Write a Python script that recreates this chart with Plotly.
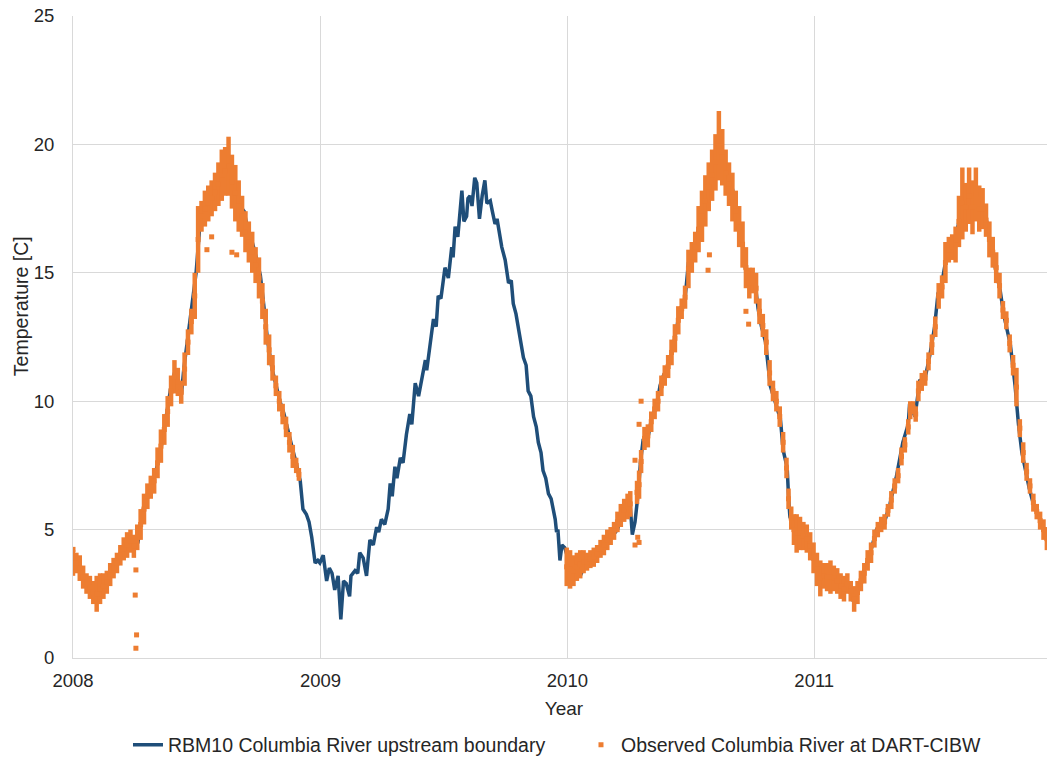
import numpy as np
import pandas as pd
import plotly.graph_objects as go

# days since 2008-01-01
rbm_day = [0, 10, 19, 25, 33, 37, 44, 50, 58, 65, 72, 80, 87, 90, 96, 104, 109, 114, 121, 129,
           135, 139, 145, 151, 155, 160, 164, 169, 173, 177, 182, 185, 188, 194, 200, 206, 211, 217, 223, 229,
           235, 241, 247, 253, 259, 265, 271, 277, 281, 285, 288, 294, 300, 306, 312, 318, 324, 330, 336, 340,
           345, 349, 353, 358, 362, 365, 370, 375, 379, 383, 387, 392, 396, 400, 404, 409, 411, 417, 421, 424,
           429, 434, 439, 444, 449, 452, 456, 461, 466, 469, 472, 476, 479, 484, 488, 493, 498, 501, 506, 511,
           515, 521, 523, 528, 533, 537, 540, 544, 550, 555, 560, 562, 565, 569, 575, 578, 582, 584, 587, 590,
           594, 597, 601, 605, 609, 612, 617, 620, 624, 627, 631, 634, 639, 644, 648, 651, 655, 659, 662, 666,
           670, 673, 677, 681, 685, 688, 692, 695, 699, 703, 707, 710, 713, 715, 717, 720, 723, 727, 730, 735,
           742, 750, 760, 770, 776, 784, 791, 799, 805, 811, 818, 824, 827, 831, 836, 839, 843, 851, 856, 863,
           868, 873, 880, 888, 895, 901, 905, 910, 915, 922, 927, 933, 939, 945, 951, 956, 961, 967, 973, 979,
           985, 990, 994, 999, 1003, 1009, 1013, 1018, 1024, 1031, 1038, 1046, 1050, 1056, 1058, 1060, 1070, 1077, 1085, 1091,
           1100, 1105, 1112, 1120, 1129, 1137, 1144, 1149, 1154, 1161, 1168, 1178, 1188, 1200, 1208, 1217, 1227, 1235, 1237, 1245,
           1252, 1260, 1267, 1274, 1279, 1284, 1289, 1294, 1300, 1304, 1310, 1316, 1322, 1326, 1331, 1336, 1340, 1344, 1351, 1358,
           1366, 1371, 1376, 1381, 1386, 1393, 1398, 1403, 1408, 1414, 1420, 1430, 1440, 1450, 1457]
rbm_temp = [3.7, 3.5, 3.0, 2.8, 2.4, 2.2, 2.8, 2.9, 3.4, 3.7, 4.1, 4.4, 4.5, 4.2, 4.5, 5.8, 6.2, 6.6, 7.1, 8.0,
            8.9, 9.6, 10.6, 11.2, 10.6, 10.2, 11.3, 12.3, 13.0, 13.8, 15.0, 16.0, 17.0, 17.5, 17.8, 18.0, 18.2, 18.5, 19.0, 19.3,
            18.7, 18.0, 17.6, 17.4, 16.6, 16.2, 15.6, 14.9, 14.0, 13.0, 12.3, 11.3, 10.6, 10.0, 9.5, 8.8, 8.2, 7.6, 6.9, 5.8,
            5.6, 5.3, 4.7, 3.7, 3.8, 3.7, 4.0, 3.0, 3.5, 3.3, 2.65, 3.2, 1.5, 3.0, 2.9, 2.4, 3.2, 3.4, 3.3, 4.1,
            3.9, 3.2, 4.6, 4.4, 5.1, 4.9, 5.4, 5.2, 5.8, 6.8, 6.3, 7.45, 7.0, 7.8, 7.6, 8.7, 9.5, 9.1, 10.7, 10.2,
            10.8, 11.6, 11.2, 12.3, 13.2, 12.9, 14.1, 14.0, 15.2, 14.8, 16.0, 15.6, 16.8, 16.4, 18.2, 17.0, 17.2, 17.9, 18.0, 17.6,
            18.7, 18.5, 17.1, 18.0, 18.6, 17.7, 17.8, 17.4, 16.9, 17.1, 16.5, 16.0, 15.5, 14.6, 14.7, 13.8, 13.4, 12.8, 12.4, 11.7,
            11.4, 10.4, 10.2, 9.4, 9.0, 8.4, 8.0, 7.3, 7.0, 6.4, 6.2, 5.8, 5.4, 4.9, 5.0, 3.8, 4.4, 4.3, 4.0, 3.6,
            3.3, 3.2, 3.8, 3.9, 4.1, 4.3, 4.5, 4.8, 5.0, 5.5, 5.7, 5.9, 4.8, 5.3, 6.5, 7.6, 8.5, 8.7, 9.4, 9.8,
            10.6, 11.0, 11.4, 12.2, 13.2, 13.6, 14.0, 15.4, 15.6, 16.3, 17.0, 17.6, 18.3, 19.0, 19.5, 20.0, 19.5, 19.0, 18.5, 17.8,
            17.0, 16.2, 15.2, 14.6, 14.4, 14.5, 13.6, 12.9, 12.3, 10.6, 10.0, 9.3, 8.1, 7.4, 6.3, 5.5, 4.9, 4.8, 4.6, 4.1,
            3.4, 3.1, 3.2, 3.2, 3.0, 2.7, 2.9, 2.6, 2.2, 2.6, 3.3, 4.0, 5.0, 5.3, 6.0, 7.0, 8.4, 9.1, 9.9, 9.4,
            10.8, 10.9, 11.8, 12.9, 14.2, 14.5, 15.3, 16.0, 16.0, 16.2, 17.0, 17.6, 18.2, 18.0, 18.1, 18.0, 17.6, 17.5, 17.0, 15.9,
            15.0, 14.3, 13.4, 12.8, 12.2, 10.6, 9.1, 8.0, 7.3, 6.6, 6.0, 5.4, 4.6, 4.3, 4.0]

# observed hourly data drawn as a low/high band
obs_day = [0, 5, 10, 15, 20, 25, 30, 35, 40, 45, 50, 55, 60, 65, 70, 75, 80, 85, 90, 95,
           100, 105, 110, 115, 120, 125, 130, 135, 140, 145, 150, 155, 160, 165, 170, 175, 180, 185, 190, 195,
           200, 205, 210, 215, 220, 225, 230, 235, 240, 245, 250, 255, 260, 265, 270, 275, 280, 285, 290, 295,
           300, 305, 310, 315, 320, 325, 330, 334,
           730, 735, 740, 745, 750, 755, 760, 765, 770, 775, 780, 785, 790, 795, 800, 805, 810, 815, 820, 824,
           834, 837, 840, 845, 850, 855, 860, 865, 870, 875, 880, 885, 890, 895, 900, 905, 910, 915, 920, 925,
           930, 935, 940, 945, 950, 955, 960, 965, 970, 975, 980, 985, 990, 995, 1000, 1005, 1010, 1015, 1020, 1025,
           1030, 1035, 1040, 1045, 1050, 1055, 1058, 1062, 1066, 1070, 1075, 1080, 1085, 1090, 1095, 1100,
           1105, 1110, 1115, 1120, 1125, 1130, 1135, 1140, 1145, 1150, 1155, 1160, 1165, 1170, 1175, 1180, 1185, 1190, 1195, 1200,
           1205, 1210, 1215, 1220, 1225, 1230, 1235, 1238, 1242, 1246, 1250, 1255, 1260, 1265, 1270, 1275, 1280, 1285, 1290, 1295,
           1300, 1305, 1310, 1315, 1320, 1325, 1330, 1335, 1340, 1345, 1350, 1355, 1360, 1365, 1370, 1375, 1380, 1385, 1390, 1395,
           1400, 1405, 1410, 1415, 1420, 1425, 1430, 1435, 1440, 1445, 1450, 1455]
obs_low = [3.2, 3.3, 3.0, 2.7, 2.5, 2.3, 2.1, 1.8, 2.1, 2.3, 2.5, 2.8, 3.1, 3.3, 3.6, 3.8, 3.9, 4.1, 3.9, 4.2,
           4.6, 5.2, 5.8, 6.2, 6.4, 7.0, 7.6, 8.3, 9.0, 9.8, 10.3, 10.2, 9.9, 10.6, 11.8, 12.6, 13.2, 15.0, 16.6, 16.8,
           17.0, 17.2, 17.4, 17.6, 17.8, 18.0, 18.0, 17.5, 17.0, 16.6, 16.4, 15.8, 15.4, 15.0, 14.6, 14.0, 13.2, 12.2, 11.4, 10.8,
           10.2, 9.6, 9.1, 8.6, 8.0, 7.4, 7.2, 6.9,
           2.8, 2.7, 2.8, 3.0, 3.1, 3.3, 3.4, 3.5, 3.55, 3.7, 3.9, 4.0, 4.2, 4.4, 4.6, 4.9, 5.1, 5.3, 5.4, 5.5,
           6.0, 6.2, 7.2, 8.1, 8.2, 8.8, 9.3, 9.6, 10.2, 10.6, 10.9, 11.4, 11.9, 12.6, 13.2, 13.6, 14.4, 15.0, 15.4, 15.8,
           16.2, 16.8, 17.4, 17.8, 18.2, 18.6, 18.4, 18.0, 17.6, 17.0, 16.6, 16.0, 15.2, 14.4, 14.0, 14.2, 13.8, 13.0, 12.5, 11.8,
           10.6, 10.0, 9.6, 9.0, 8.0, 7.0, 5.8, 5.0, 4.4, 4.1, 4.2, 4.2, 4.1, 3.8, 3.3, 2.8,
           2.4, 2.7, 2.6, 2.5, 2.6, 2.5, 2.3, 2.2, 2.5, 2.2, 1.8, 2.1, 2.6, 2.9, 3.4, 3.7, 4.3, 4.7, 4.9, 5.0,
           5.5, 5.8, 6.4, 6.8, 7.5, 8.0, 8.7, 9.3, 9.5, 9.2, 10.0, 10.4, 10.6, 11.2, 11.8, 12.5, 13.6, 14.0, 14.6, 15.4,
           15.5, 15.4, 16.0, 16.3, 16.6, 16.9, 16.5, 17.0, 16.6, 16.7, 16.4, 15.6, 15.2, 14.6, 14.0, 13.2, 12.8, 11.9, 11.0, 9.8,
           8.6, 7.6, 6.9, 6.4, 5.7, 5.4, 5.0, 4.6, 4.2, 4.0, 3.7, 3.7]
obs_high = [4.2, 4.1, 4.0, 3.6, 3.3, 3.2, 3.0, 3.2, 3.3, 3.3, 3.4, 3.7, 3.9, 4.1, 4.4, 4.7, 4.9, 5.0, 4.8, 5.2,
            5.8, 6.4, 6.8, 7.1, 7.4, 8.2, 8.9, 9.5, 10.2, 11.0, 11.6, 11.3, 10.8, 11.9, 12.8, 13.6, 15.0, 17.6, 17.8, 18.2,
            18.4, 18.6, 18.9, 19.3, 19.8, 19.9, 20.3, 19.6, 19.2, 18.6, 18.0, 17.4, 17.0, 16.6, 16.0, 15.6, 14.6, 13.6, 12.6, 11.8,
            11.0, 10.4, 9.9, 9.4, 8.8, 8.3, 7.8, 7.4,
            4.3, 4.2, 4.0, 4.1, 4.2, 4.2, 4.1, 4.2, 4.3, 4.4, 4.6, 4.8, 5.0, 5.1, 5.3, 5.7, 6.0, 6.2, 6.4, 6.5,
            6.9, 7.3, 8.1, 9.0, 9.1, 9.6, 10.1, 10.4, 11.0, 11.4, 11.8, 12.4, 13.0, 13.7, 14.0, 14.5, 15.9, 16.2, 16.6, 17.6,
            18.2, 18.8, 19.3, 19.8, 20.4, 21.3, 20.6, 19.8, 19.3, 18.9, 18.2, 17.6, 17.0, 16.0, 15.2, 15.2, 15.0, 14.0, 13.4, 12.8,
            11.6, 10.8, 10.4, 9.8, 8.8, 7.8, 6.6, 5.9, 5.6, 5.6, 5.5, 5.3, 5.2, 4.9, 4.5, 4.1,
            3.8, 3.7, 3.7, 3.8, 3.6, 3.5, 3.3, 3.2, 3.3, 3.0, 2.8, 3.0, 3.4, 3.7, 4.2, 4.5, 5.0, 5.3, 5.5, 5.6,
            6.0, 6.5, 7.0, 7.4, 8.2, 8.6, 9.3, 10.0, 10.0, 9.8, 10.8, 11.1, 11.2, 11.9, 12.6, 13.3, 14.6, 14.9, 16.2, 16.4,
            16.5, 16.8, 18.0, 19.1, 18.5, 19.1, 18.6, 19.1, 18.4, 18.3, 17.7, 17.0, 16.4, 15.8, 15.0, 13.9, 13.5, 12.6, 11.8, 11.3,
            9.3, 8.4, 7.6, 7.0, 6.4, 6.0, 5.7, 5.4, 5.1, 5.0, 4.8, 4.4]

# stray observations away from the main band
stray_day = [0, 92, 93, 94, 93, 198, 205, 235, 242, 831, 835, 837, 831, 837, 840, 939, 941, 995, 999]
stray_temp = [4.23, 2.45, 3.43, 0.9, 0.38, 15.9, 16.4, 15.8, 15.7, 4.4, 4.7, 4.5, 7.7, 9.1, 10.0, 15.1, 15.7, 13.5, 13.0]

start = pd.Timestamp("2008-01-01")
rbm_dates = start + pd.to_timedelta(rbm_day, unit="D")
obs_dates = start + pd.to_timedelta(obs_day + stray_day, unit="D")
lo = np.array(obs_low + stray_temp)
hi = np.array(obs_high + stray_temp)
mid = (lo + hi) / 2

BLUE = "#1F4E79"
ORANGE = "#ED7D31"
TEXT = "#262626"
GRID = "#D9D9D9"
FONT = "Liberation Sans, Arial, sans-serif"

fig = go.Figure()

fig.add_trace(go.Scatter(
    x=rbm_dates, y=rbm_temp, mode="lines",
    line=dict(color=BLUE, width=3.5),
    name="RBM10 Columbia River upstream boundary"
))

fig.add_trace(go.Scatter(
    x=obs_dates, y=mid, mode="markers",
    marker=dict(symbol="square", size=5, color=ORANGE, line=dict(width=0)),
    error_y=dict(type="data", symmetric=False, array=hi - mid, arrayminus=mid - lo,
                 color=ORANGE, thickness=4.5, width=0),
    name="Observed Columbia River at DART-CIBW"
))

# the page body adds 8px around the figure, margins account for it
fig.update_layout(
    width=1047, height=759,
    margin=dict(l=65, r=0, t=8, b=109, autoexpand=False),
    paper_bgcolor="white", plot_bgcolor="white",
    font=dict(family=FONT, size=18.5, color=TEXT),
    legend=dict(orientation="h", x=0.056, xanchor="left", y=-0.1355, yanchor="middle",
                font=dict(size=19.5, color=TEXT), itemwidth=30,
                entrywidth=408, entrywidthmode="pixels"),
    showlegend=True,
)

# y title sits a little above the middle of the axis in the original
fig.add_annotation(
    text="Temperature [C]", textangle=-90,
    xref="paper", yref="paper", x=-0.053, y=0.548,
    xanchor="center", yanchor="middle", showarrow=False,
    font=dict(family=FONT, size=19.5, color=TEXT),
)

fig.update_xaxes(
    type="date", range=[start, start + pd.Timedelta(days=1452)],
    tick0="2008-01-01", dtick="M12", tickformat="%Y",
    showgrid=True, gridcolor=GRID, gridwidth=1,
    showline=True, linecolor=GRID, linewidth=1,
    ticks="", ticklabelstandoff=6, automargin=False,
    title=dict(text="Year", standoff=11, font=dict(size=19)),
    zeroline=False,
)
fig.update_yaxes(
    range=[0, 25], dtick=5,
    showgrid=True, gridcolor=GRID, gridwidth=1,
    showline=True, linecolor=GRID, linewidth=1,
    ticks="", ticklabelstandoff=14, ticklabeloverflow="allow", automargin=False,
    zeroline=False,
)

fig.write_html("out.html")
